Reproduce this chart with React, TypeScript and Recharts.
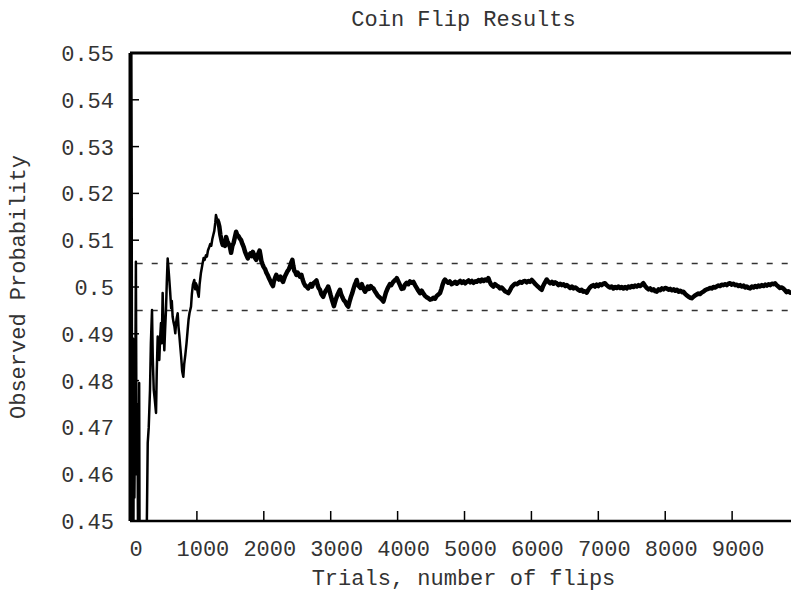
import React from "react";
import { LineChart, Line, XAxis, YAxis, ReferenceLine, Label } from "recharts";

const titleText = "Coin Flip Results";
const xAxisTitle = "Trials, number of flips";
const yAxisTitle = "Observed Probability";

const xTicks = [0, 1000, 2000, 3000, 4000, 5000, 6000, 7000, 8000, 9000];
const yTicks = [0.45, 0.46, 0.47, 0.48, 0.49, 0.5, 0.51, 0.52, 0.53, 0.54, 0.55];
const bandValues = [0.505, 0.495];

const earlyTrials = [
  1, 2, 4, 6, 9, 12, 16, 20, 25, 30, 35, 40, 45, 50, 58, 66, 74, 82, 88, 94,
  100, 108, 115, 122, 130, 137, 142, 150, 165, 185, 205, 225, 240, 252, 265, 280, 299, 312, 329, 340,
  355, 370, 389, 400, 414, 425, 438, 450, 463, 475, 488, 500, 513, 525, 538, 550, 563, 575, 588, 600,
  615, 625, 637, 650, 665, 677, 690, 700, 713, 725, 737, 750, 765, 780, 797, 810, 827, 845, 860, 875,
  890, 912, 925, 940, 961, 975, 985, 997, 1010, 1027, 1040, 1060, 1086, 1100, 1115, 1136, 1150, 1165, 1186, 1200,
  1215, 1230, 1245, 1260, 1275, 1285, 1300,
];
const earlyValues = [
  1.0, 0.5, 0.75, 0.5, 0.556, 0.417, 0.5, 0.55, 0.524, 0.467, 0.486, 0.45, 0.489, 0.44, 0.483, 0.455, 0.47, 0.488, 0.5054, 0.48,
  0.46, 0.475, 0.4615, 0.44, 0.455, 0.4795, 0.45, 0.433, 0.42, 0.41, 0.415, 0.425, 0.438, 0.45, 0.4667, 0.47, 0.478, 0.488, 0.4951, 0.485,
  0.478, 0.476, 0.4731, 0.482, 0.4894, 0.486, 0.4844, 0.489, 0.4923, 0.488, 0.4987, 0.492, 0.4865, 0.491, 0.4951, 0.501, 0.5061, 0.504, 0.5015, 0.499,
  0.4955, 0.497, 0.4937, 0.4925, 0.4915, 0.4901, 0.4925, 0.4935, 0.4944, 0.4915, 0.4897, 0.4875, 0.485, 0.482, 0.4808, 0.4835, 0.4855, 0.488, 0.4905, 0.493,
  0.4945, 0.4958, 0.4985, 0.5005, 0.5015, 0.4995, 0.5008, 0.5004, 0.499, 0.4979, 0.5005, 0.503, 0.5051, 0.5062, 0.5058, 0.5068, 0.5065, 0.5078, 0.5086, 0.5092,
  0.5088, 0.5102, 0.5111, 0.512, 0.5138, 0.5154, 0.5145,
];

const lateTrials = [
  1300, 1320, 1335, 1350, 1370, 1386, 1400, 1420, 1436, 1455, 1475, 1495, 1511, 1530, 1550, 1570, 1586, 1600, 1620, 1640,
  1661, 1680, 1700, 1720, 1740, 1761, 1780, 1800, 1820, 1836, 1855, 1870, 1887, 1905, 1920, 1937, 1950, 1965, 1980, 1997,
  2020, 2040, 2060, 2080, 2100, 2120, 2137, 2150, 2170, 2187, 2205, 2225, 2250, 2270, 2287, 2305, 2320, 2337, 2355, 2375,
  2395, 2410, 2427, 2440, 2455, 2470, 2487, 2505, 2520, 2540, 2562, 2580, 2600, 2620, 2640, 2662, 2680, 2700, 2720, 2740,
  2760, 2787, 2805, 2820, 2840, 2860, 2887, 2905, 2925, 2945, 2962, 2980, 3000, 3020, 3035, 3048, 3065, 3080, 3100, 3120,
  3138, 3155, 3175, 3195, 3215, 3240, 3262, 3280, 3300, 3320, 3340, 3360, 3375, 3388, 3405, 3425, 3445, 3465, 3490, 3513,
  3535, 3555, 3575, 3600, 3620, 3638, 3660, 3680, 3700, 3720, 3745, 3770, 3788, 3805, 3825, 3845, 3865, 3885, 3905, 3930,
  3955, 3975, 3988, 4010, 4036, 4060, 4088, 4110, 4135, 4160, 4185, 4210, 4235, 4260, 4285, 4310, 4335, 4360, 4385, 4410,
  4435, 4460, 4485, 4509, 4535, 4560, 4585, 4610, 4634, 4655, 4675, 4690, 4709, 4730, 4755, 4780, 4805, 4833, 4860, 4885,
  4910, 4935, 4960, 4985, 5010, 5032, 5060, 5085, 5110, 5135, 5160, 5182, 5210, 5235, 5260, 5285, 5310, 5335, 5356, 5375,
  5395, 5415, 5431, 5455, 5480, 5505, 5531, 5555, 5580, 5605, 5630, 5655, 5680, 5705, 5730, 5755, 5780, 5804, 5830, 5855,
  5880, 5905, 5930, 5955, 5980, 6005, 6030, 6060, 6090, 6120, 6154, 6175, 6200, 6229, 6255, 6280, 6305, 6330, 6355, 6378,
  6405, 6430, 6455, 6480, 6505, 6528, 6555, 6580, 6605, 6630, 6655, 6677, 6700, 6725, 6750, 6775, 6800, 6827, 6850, 6875,
  6900, 6926, 6950, 6975, 7000, 7025, 7050, 7075, 7100, 7125, 7150, 7175, 7200, 7225, 7250, 7275, 7300, 7325, 7350, 7375,
  7400, 7424, 7450, 7475, 7500, 7525, 7550, 7575, 7600, 7625, 7650, 7673, 7700, 7725, 7750, 7775, 7800, 7825, 7850, 7873,
  7900, 7925, 7950, 7975, 8000, 8022, 8050, 8075, 8100, 8125, 8150, 8175, 8200, 8225, 8250, 8271, 8300, 8325, 8350, 8375,
  8396, 8420, 8445, 8470, 8495, 8520, 8545, 8569, 8595, 8620, 8645, 8670, 8695, 8720, 8745, 8769, 8795, 8820, 8845, 8870,
  8895, 8920, 8945, 8969, 8995, 9020, 9045, 9070, 9095, 9120, 9145, 9170, 9195, 9220, 9245, 9268, 9295, 9320, 9345, 9370,
  9395, 9417, 9445, 9470, 9495, 9520, 9545, 9570, 9595, 9620, 9641, 9665, 9690, 9715, 9740, 9765, 9790, 9815, 9840, 9865,
  9880,
];
const lateValues = [
  0.5145, 0.5138, 0.5129, 0.5112, 0.5098, 0.509, 0.5096, 0.5088, 0.5107, 0.5098, 0.5092, 0.5085, 0.5073, 0.5088, 0.5095, 0.5108, 0.5118, 0.5112, 0.5109, 0.5104,
  0.51, 0.5092, 0.5085, 0.5075, 0.5068, 0.5061, 0.5068, 0.5072, 0.5066, 0.5075, 0.5068, 0.5062, 0.5058, 0.5066, 0.5072, 0.5078, 0.5068, 0.5055, 0.5049, 0.5043,
  0.5038, 0.503, 0.5025, 0.5018, 0.5012, 0.5006, 0.5002, 0.5012, 0.502, 0.5026, 0.502, 0.5016, 0.5022, 0.5015, 0.5011, 0.5018, 0.5024, 0.5029, 0.5034, 0.5038,
  0.5045, 0.5052, 0.5058, 0.5046, 0.5035, 0.5032, 0.5026, 0.5031, 0.5027, 0.5022, 0.5026, 0.5016, 0.5008, 0.5003, 0.5001, 0.4997, 0.5002, 0.5006, 0.5001, 0.5008,
  0.501, 0.5014, 0.5004, 0.4998, 0.4994, 0.4985, 0.4979, 0.4986, 0.4992, 0.4996, 0.5001, 0.4993, 0.4982, 0.4972, 0.4965, 0.4959, 0.4968, 0.4975, 0.4983, 0.4989,
  0.4994, 0.4985, 0.4978, 0.4972, 0.4969, 0.4962, 0.4958, 0.4968, 0.4978, 0.4986, 0.4996, 0.5005, 0.501, 0.5015, 0.5005, 0.5001, 0.4998, 0.5006, 0.4996, 0.499,
  0.4995, 0.5001, 0.4996, 0.5002, 0.4998, 0.4997, 0.4991, 0.4987, 0.4982, 0.4979, 0.4976, 0.4972, 0.4969, 0.4978, 0.4988, 0.4995, 0.5001, 0.5006, 0.5004, 0.501,
  0.5014, 0.5016, 0.5019, 0.5012, 0.5004, 0.4996, 0.4997, 0.5005, 0.5009, 0.5006, 0.5012, 0.5009, 0.5011, 0.5004, 0.4998, 0.4992, 0.4987, 0.4992, 0.4986, 0.4981,
  0.4978, 0.4976, 0.4973, 0.4974, 0.4977, 0.4975, 0.4981, 0.4984, 0.4987, 0.4996, 0.5006, 0.5012, 0.5016, 0.5012, 0.5009, 0.5012, 0.5006, 0.5008, 0.5011, 0.5007,
  0.501, 0.5013, 0.5009, 0.5012, 0.5008, 0.5011, 0.5014, 0.501, 0.5013, 0.5009, 0.5012, 0.5011, 0.5015, 0.5012, 0.5016, 0.5013, 0.5016, 0.5014, 0.5019, 0.5012,
  0.5006, 0.5003, 0.5001, 0.5006, 0.5003, 0.5001, 0.4997, 0.4999, 0.4995, 0.4991, 0.4989, 0.4987, 0.4993, 0.5, 0.5004, 0.5007, 0.5006, 0.5008, 0.5011, 0.5009,
  0.5012, 0.5013, 0.501, 0.5013, 0.5011, 0.5015, 0.5011, 0.5006, 0.5002, 0.4998, 0.4994, 0.5002, 0.5009, 0.5016, 0.5011, 0.5008, 0.5011, 0.5007, 0.501, 0.5008,
  0.5004, 0.5007, 0.5004, 0.5006, 0.5002, 0.5004, 0.5001, 0.4998, 0.5001, 0.4997, 0.4999, 0.4997, 0.4994, 0.4992, 0.4994, 0.499, 0.4991, 0.4988, 0.4994, 0.4999,
  0.5002, 0.5004, 0.5001, 0.5005, 0.5002, 0.5006, 0.5004, 0.5007, 0.5008, 0.5004, 0.5001, 0.4999, 0.5001, 0.4997, 0.5, 0.4998, 0.5001, 0.4998, 0.5, 0.4997,
  0.5, 0.4997, 0.5001, 0.4999, 0.5002, 0.5, 0.5003, 0.5001, 0.5004, 0.5002, 0.5005, 0.5008, 0.5002, 0.4998, 0.4995, 0.4997, 0.4993, 0.4995, 0.4991, 0.499,
  0.4995, 0.4993, 0.4997, 0.4995, 0.4998, 0.4997, 0.4994, 0.4996, 0.4993, 0.4995, 0.4992, 0.4994, 0.499, 0.4992, 0.4989, 0.499, 0.4985, 0.4982, 0.4979, 0.4977,
  0.4976, 0.4979, 0.4982, 0.4984, 0.4986, 0.4985, 0.4988, 0.499, 0.4993, 0.4995, 0.4996, 0.4998, 0.4997, 0.5, 0.4999, 0.5001, 0.5003, 0.5002, 0.5005, 0.5004,
  0.5006, 0.5004, 0.5007, 0.5008, 0.5005, 0.5007, 0.5004, 0.5005, 0.5002, 0.5004, 0.5001, 0.5003, 0.4999, 0.5001, 0.4998, 0.4997, 0.5001, 0.4999, 0.5002, 0.5,
  0.5003, 0.5001, 0.5004, 0.5002, 0.5005, 0.5003, 0.5006, 0.5004, 0.5007, 0.5006, 0.5008, 0.5004, 0.5001, 0.4998, 0.4999, 0.4997, 0.4993, 0.4989, 0.4991, 0.4988,
  0.499,
];

const earlyData = earlyTrials.map((t, i) => ({ trial: t, p: earlyValues[i] }));
const lateData = lateTrials.map((t, i) => ({ trial: t, p: lateValues[i] }));

const FONT = "'Liberation Mono', 'DejaVu Sans Mono', monospace";
const TEXT_FILL = "#333";

const XTick = (props: any) => {
  const { x, y, payload } = props;
  return (
    <text x={x + 6} y={y + 45} textAnchor="middle" fontFamily={FONT} fontSize={22} fill={TEXT_FILL}>
      {String(payload.value)}
    </text>
  );
};

const YTick = (props: any) => {
  const { x, y, payload } = props;
  return (
    <text x={x - 25} y={y + 8} textAnchor="end" fontFamily={FONT} fontSize={22} fill={TEXT_FILL}>
      {String(payload.value)}
    </text>
  );
};

export default function App() {
  return (
    <div style={{ position: "absolute", left: 0, top: 0, width: 791, height: 593, background: "#fff" }}>
      <LineChart width={791} height={593} margin={{ top: 53, right: 0, bottom: 0, left: 0 }}>
        <XAxis
          type="number"
          dataKey="trial"
          domain={[0, 9880]}
          allowDataOverflow
          ticks={xTicks}
          interval={0}
          height={72}
          tickSize={-10}
          tickMargin={0}
          tick={<XTick />}
          axisLine={{ stroke: "#000", strokeWidth: 2.5 }}
          tickLine={{ stroke: "#000", strokeWidth: 1.5 }}
        >
          <Label
            content={(p: any) => {
              const vb = p.viewBox || { x: 130, y: 521, width: 661 };
              return (
                <text x={vb.x + vb.width / 2 + 3} y={vb.y + 64} textAnchor="middle" fontFamily={FONT} fontSize={22} fill={TEXT_FILL}>
                  {xAxisTitle}
                </text>
              );
            }}
          />
        </XAxis>
        <YAxis
          type="number"
          domain={[0.45, 0.55]}
          allowDataOverflow
          ticks={yTicks}
          interval={0}
          width={130}
          tickSize={-9}
          tickMargin={0}
          tick={<YTick />}
          axisLine={{ stroke: "#000", strokeWidth: 3 }}
          tickLine={{ stroke: "#000", strokeWidth: 1.5 }}
        >
          <Label
            content={(p: any) => {
              const vb = p.viewBox || { x: 0, y: 53, width: 130, height: 468 };
              const cy = vb.y + vb.height / 2;
              return (
                <text x={25} y={cy} transform={`rotate(-90, 25, ${cy})`} textAnchor="middle" fontFamily={FONT} fontSize={22} fill={TEXT_FILL}>
                  {yAxisTitle}
                </text>
              );
            }}
          />
        </YAxis>
        {bandValues.map((v) => (
          <ReferenceLine
            key={v}
            y={v}
            stroke="#333"
            strokeWidth={1.5}
            strokeDasharray="6 9"
            strokeDashoffset={8.3}
          />
        ))}
        <ReferenceLine y={0.55} stroke="#000" strokeWidth={3}>
          <Label
            content={(p: any) => {
              const vb = p.viewBox || { x: 130, y: 53, width: 661 };
              return (
                <text x={vb.x + vb.width / 2 + 3} y={26} textAnchor="middle" fontFamily={FONT} fontSize={22} fill={TEXT_FILL}>
                  {titleText}
                </text>
              );
            }}
          />
        </ReferenceLine>
        <Line
          data={earlyData}
          dataKey="p"
          type="linear"
          stroke="#000"
          strokeWidth={2.5}
          strokeLinejoin="round"
          dot={false}
          isAnimationActive={false}
        />
        <Line
          data={lateData}
          dataKey="p"
          type="linear"
          stroke="#000"
          strokeWidth={4.5}
          strokeLinejoin="round"
          dot={false}
          isAnimationActive={false}
        />
      </LineChart>
    </div>
  );
}
